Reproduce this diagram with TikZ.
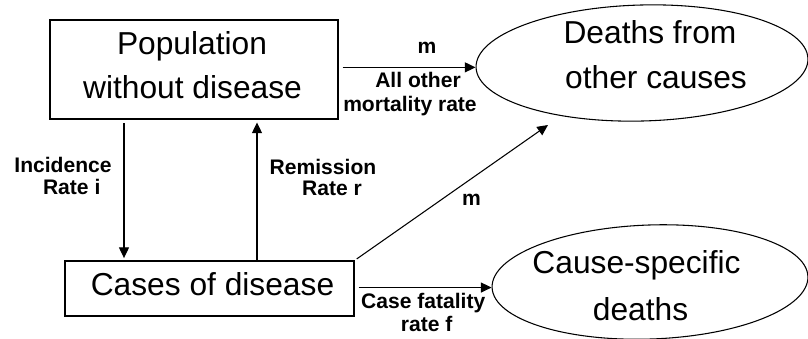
\documentclass[tikz,border=0pt]{standalone}
\usepackage{fontspec}
\setmainfont{Liberation Sans}
\usetikzlibrary{shapes.geometric,arrows.meta}
\begin{document}
\begin{tikzpicture}[x=0.75pt,y=-0.75pt,
  box/.style={draw=black, line width=0.8pt, inner sep=0pt},
  oval/.style={draw=black, line width=0.8pt, ellipse, inner sep=0pt},
  big/.style={font=\fontsize{23.8}{28}\selectfont, anchor=base, inner sep=0pt},
  lbl/.style={font=\fontsize{15.8}{18}\selectfont\bfseries, anchor=base, inner sep=0pt},
  arr/.style={draw=black, line width=0.8pt, -{Triangle[length=8pt,width=7.5pt]}}]
\useasboundingbox (0,0) rectangle (808,339);
\clip (0,0) rectangle (808,339);
\fill[white] (0,0) rectangle (808,339);
% shapes
\node[box, minimum width=216pt, minimum height=74.25pt] (pop) at (194,69.5) {};
\node[box, minimum width=216.75pt, minimum height=41.25pt] (cases) at (209.5,288.5) {};
\node[oval, minimum width=249pt, minimum height=87pt, rotate=1.5] (d1) at (642,63) {};
\node[oval, minimum width=237pt, minimum height=85.5pt, rotate=2] (d2) at (650,282) {};
% main texts
\node[big] (popA) at (192,55) {Population};
\node[big] (popB) at (192.5,98) {without disease};
\node[big] (casesT) at (212.5,295) {Cases of disease};
\node[big] (d1A) at (650,43.3) {Deaths from};
\node[big] (d1B) at (656,89) {other causes};
\node[big] (d2A) at (636.5,273) {Cause-specific};
\node[big] (d2B) at (640.5,320) {deaths};
% labels
\node[lbl] (m1) at (427,53) {m};
\node[lbl] (ao1) at (418,87) {All other};
\node[lbl] (ao2) at (410,111.5) {mortality rate};
\node[lbl] (inc1) at (63,172.5) {Incidence};
\node[lbl] (inc2) at (71.7,194.3) {Rate i};
\node[lbl] (rem1) at (323,174) {Remission};
\node[lbl] (rem2) at (332,195.7) {Rate r};
\node[lbl] (m2) at (471.5,205) {m};
\node[lbl] (cf1) at (423.3,308.5) {Case fatality};
\node[lbl] (cf2) at (426.7,331.7) {rate f};
% connectors
\coordinate (incx) at (124,0);
\coordinate (remx) at (257,0);
\coordinate (mtip) at (548,125);
\draw[arr, shorten <=2.7pt, shorten >=1.8pt] (pop.south -| incx) -- (cases.north -| incx);
\draw[arr, shorten >=2.2pt] (cases.north -| remx) -- (pop.south -| remx);
\draw[arr, shorten <=3pt] (pop.east |- d1.west) -- (d1.west);
\draw[arr, shorten <=3pt] (cases.east |- d2.west) -- (d2.west);
\draw[arr, shorten <=2pt] (cases.north east) -- (mtip);
\end{tikzpicture}
\end{document}
